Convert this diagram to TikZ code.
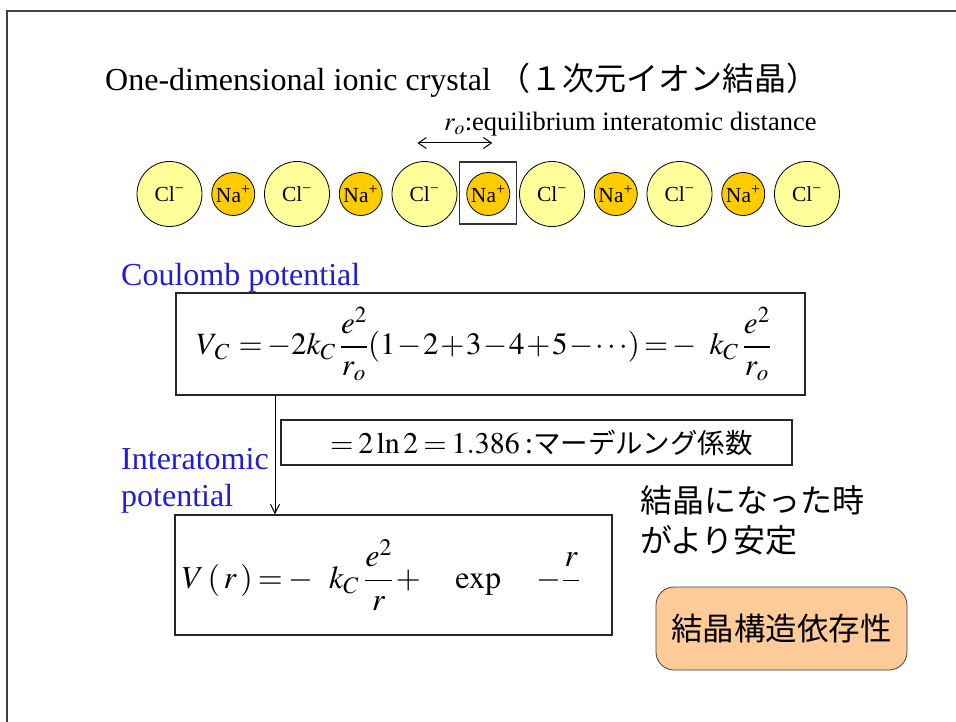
\documentclass[tikz,border=0pt]{standalone}
\usepackage{mathptmx}
\usepackage{fontspec}
\setmainfont{Liberation Serif}
\newfontfamily\cjk{Noto Sans CJK JP}
\usetikzlibrary{arrows.meta,positioning}
\definecolor{clfill}{RGB}{255,255,153}
\definecolor{nafill}{RGB}{255,204,0}
\definecolor{headblue}{RGB}{30,30,215}
\definecolor{peach}{RGB}{255,204,153}
\newcommand{\tighteq}{\thickmuskip=3mu \medmuskip=1.5mu}
\newcommand{\tightereq}{\thickmuskip=2.5mu \medmuskip=1mu}
\tikzset{
  clion/.style={circle, draw=black, thick, fill=clfill, minimum size=65pt,
                inner sep=0pt, outer sep=0pt, font=\fontsize{21.5}{24}\selectfont},
  naion/.style={circle, draw=black, thick, fill=nafill, minimum size=43pt,
                inner sep=0pt, outer sep=0pt, font=\fontsize{21.5}{24}\selectfont},
  cellbox/.style={rectangle, draw=black!80, line width=1.2pt,
                  minimum width=57pt, minimum height=62pt},
  eqbox/.style={rectangle, draw=black!85, line width=1.2pt, align=left,
                inner ysep=0pt, font=\fontsize{32}{38}\selectfont\tighteq},
  headlabel/.style={text=headblue, inner sep=0pt, align=left,
                    font=\fontsize{32}{37}\selectfont},
  notebox/.style={rectangle, rounded corners=18pt, draw=black!75, thick,
                  fill=peach, minimum width=251pt, minimum height=83pt,
                  font=\cjk\fontsize{31.5}{36}\selectfont},
  dimarrow/.style={{Straight Barb[length=8pt,width=11pt]}-{Straight Barb[length=8pt,width=11pt]}, line width=1pt},
  droparrow/.style={-{Straight Barb[length=9pt,width=9pt]}, line width=1pt},
  frameline/.style={draw=black!75, line width=2pt},
}
\begin{document}
\begin{tikzpicture}[x=1pt, y=-1pt]
  \useasboundingbox (0,0) rectangle (956,722);
  \draw[frameline] (7,722) -- (7,11) -- (956,11);
  % title and ion chain
  \node[anchor=base west, inner sep=0pt, font=\fontsize{32}{38}\selectfont] (title) at (105,91)
    {One-dimensional ionic crystal {\cjk （１次元イオン結晶）}};
  \node[anchor=base west, inner sep=0pt, font=\fontsize{26.5}{30}\selectfont] (rolabel) at (444,131)
    {$r_o$:equilibrium interatomic distance};
  \node[clion] (cl1) at (169.5,194) {Cl\textsuperscript{−}};
  \node[naion, right=9.75pt of cl1] (na1) {Na\textsuperscript{+}};
  \node[clion, right=9.75pt of na1] (cl2) {Cl\textsuperscript{−}};
  \node[naion, right=9.75pt of cl2] (na2) {Na\textsuperscript{+}};
  \node[clion, right=9.75pt of na2] (cl3) {Cl\textsuperscript{−}};
  \node[naion, right=9.75pt of cl3] (na3) {Na\textsuperscript{+}};
  \node[clion, right=9.75pt of na3] (cl4) {Cl\textsuperscript{−}};
  \node[naion, right=9.75pt of cl4] (na4) {Na\textsuperscript{+}};
  \node[clion, right=9.75pt of na4] (cl5) {Cl\textsuperscript{−}};
  \node[naion, right=9.75pt of cl5] (na5) {Na\textsuperscript{+}};
  \node[clion, right=9.75pt of na5] (cl6) {Cl\textsuperscript{−}};
  \node[cellbox] (cell) at ([yshift=1pt]na3.center) {};
  \coordinate (rol) at ([xshift=-7pt,yshift=51pt]cl3.center);
  \coordinate (ror) at ([xshift=4pt,yshift=51pt]na3.center);
  \draw[dimarrow] (rol) -- (ror);
  % potentials
  \node[headlabel, anchor=base west] (coul) at (121,285) {Coulomb potential};
  \node[eqbox, minimum height=102pt, text width=588pt, inner xsep=20.5pt,
        font=\fontsize{31}{36}\selectfont\tightereq] (vcbox) at (490.5,344)
    {\mbox{$\displaystyle V_{\,C}\;=-2k_C\;\frac{e^2}{r_o}(1-2+3-4+5-\cdots)=-\;\;\; k_C\;\frac{e^2}{r_o}$}};
  \node[eqbox, minimum height=45pt, text width=413pt, inner xsep=49pt,
        font=\fontsize{30}{34}\selectfont\tighteq] (madbox) at (536.5,442.5)
    {\mbox{$=2\ln 2=1.386$\,:{\cjk\fontsize{27.5}{32}\selectfont マーデルング係数}}};
  \node[headlabel, anchor=north west] (inter) at (121,448) {Interatomic\\potential};
  \node[eqbox, minimum height=120pt, text width=423pt, inner xsep=7pt] (vrbox) at (393.5,575)
    {\mbox{$\displaystyle V\,(\,r\,)=-\;\;\; k_C\;\frac{e^2}{r}+\quad\exp\quad-\frac{r}{\hphantom{r\,}}$}};
  \coordinate (dropx) at (275,0);
  \draw[droparrow] (vcbox.south -| dropx) -- (vrbox.north -| dropx);
  % stability note
  \node[anchor=north west, align=left, inner sep=0pt, font=\cjk\fontsize{32}{40}\selectfont] (stable) at (640,485)
    {結晶になった時\\がより安定};
  \node[notebox] (struct) at (781.5,628.5) {結晶構造依存性};
\end{tikzpicture}
\end{document}
